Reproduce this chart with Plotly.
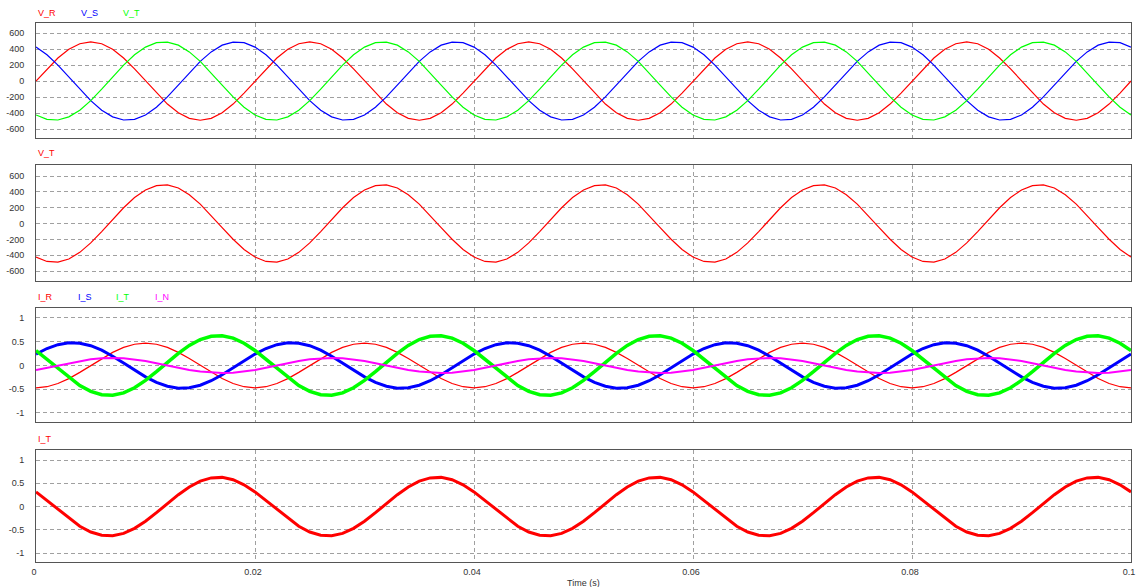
import plotly.graph_objects as go

W, H = 1136, 587

# time base (s), 1 ms sampling
time_s = [i / 1000 for i in range(101)]

V_R = [
    0, 151, 288, 396, 466, 490, 466, 396, 288, 151, 0, -151, -288, -396, -466, -490, -466, -396, -288, -151,
    0, 151, 288, 396, 466, 490, 466, 396, 288, 151, 0, -151, -288, -396, -466, -490, -466, -396, -288, -151,
    0, 151, 288, 396, 466, 490, 466, 396, 288, 151, 0, -151, -288, -396, -466, -490, -466, -396, -288, -151,
    0, 151, 288, 396, 466, 490, 466, 396, 288, 151, 0, -151, -288, -396, -466, -490, -466, -396, -288, -151,
    0, 151, 288, 396, 466, 490, 466, 396, 288, 151, 0, -151, -288, -396, -466, -490, -466, -396, -288, -151,
    0]
V_S = [
    424, 328, 199, 51, -102, -245, -364, -448, -487, -479, -424, -328, -199, -51, 102, 245, 364, 448, 487, 479,
    424, 328, 199, 51, -102, -245, -364, -448, -487, -479, -424, -328, -199, -51, 102, 245, 364, 448, 487, 479,
    424, 328, 199, 51, -102, -245, -364, -448, -487, -479, -424, -328, -199, -51, 102, 245, 364, 448, 487, 479,
    424, 328, 199, 51, -102, -245, -364, -448, -487, -479, -424, -328, -199, -51, 102, 245, 364, 448, 487, 479,
    424, 328, 199, 51, -102, -245, -364, -448, -487, -479, -424, -328, -199, -51, 102, 245, 364, 448, 487, 479,
    424]
V_T = [
    -424, -479, -487, -448, -364, -245, -102, 51, 199, 328, 424, 479, 487, 448, 364, 245, 102, -51, -199, -328,
    -424, -479, -487, -448, -364, -245, -102, 51, 199, 328, 424, 479, 487, 448, 364, 245, 102, -51, -199, -328,
    -424, -479, -487, -448, -364, -245, -102, 51, 199, 328, 424, 479, 487, 448, 364, 245, 102, -51, -199, -328,
    -424, -479, -487, -448, -364, -245, -102, 51, 199, 328, 424, 479, 487, 448, 364, 245, 102, -51, -199, -328,
    -424, -479, -487, -448, -364, -245, -102, 51, 199, 328, 424, 479, 487, 448, 364, 245, 102, -51, -199, -328,
    -424]
I_R = [
    -0.47, -0.447, -0.38, -0.276, -0.145, 0, 0.145, 0.276, 0.38, 0.447, 0.47, 0.447, 0.38, 0.276, 0.145, 0, -0.145, -0.276, -0.38, -0.447,
    -0.47, -0.447, -0.38, -0.276, -0.145, 0, 0.145, 0.276, 0.38, 0.447, 0.47, 0.447, 0.38, 0.276, 0.145, 0, -0.145, -0.276, -0.38, -0.447,
    -0.47, -0.447, -0.38, -0.276, -0.145, 0, 0.145, 0.276, 0.38, 0.447, 0.47, 0.447, 0.38, 0.276, 0.145, 0, -0.145, -0.276, -0.38, -0.447,
    -0.47, -0.447, -0.38, -0.276, -0.145, 0, 0.145, 0.276, 0.38, 0.447, 0.47, 0.447, 0.38, 0.276, 0.145, 0, -0.145, -0.276, -0.38, -0.447,
    -0.47, -0.447, -0.38, -0.276, -0.145, 0, 0.145, 0.276, 0.38, 0.447, 0.47, 0.447, 0.38, 0.276, 0.145, 0, -0.145, -0.276, -0.38, -0.447,
    -0.47]
I_S = [
    0.24, 0.357, 0.438, 0.477, 0.469, 0.416, 0.321, 0.195, 0.05, -0.1, -0.24, -0.357, -0.438, -0.477, -0.469, -0.416, -0.321, -0.195, -0.05, 0.1,
    0.24, 0.357, 0.438, 0.477, 0.469, 0.416, 0.321, 0.195, 0.05, -0.1, -0.24, -0.357, -0.438, -0.477, -0.469, -0.416, -0.321, -0.195, -0.05, 0.1,
    0.24, 0.357, 0.438, 0.477, 0.469, 0.416, 0.321, 0.195, 0.05, -0.1, -0.24, -0.357, -0.438, -0.477, -0.469, -0.416, -0.321, -0.195, -0.05, 0.1,
    0.24, 0.357, 0.438, 0.477, 0.469, 0.416, 0.321, 0.195, 0.05, -0.1, -0.24, -0.357, -0.438, -0.477, -0.469, -0.416, -0.321, -0.195, -0.05, 0.1,
    0.24, 0.357, 0.438, 0.477, 0.469, 0.416, 0.321, 0.195, 0.05, -0.1, -0.24, -0.357, -0.438, -0.477, -0.469, -0.416, -0.321, -0.195, -0.05, 0.1,
    0.24]
I_T = [
    0.315, 0.131, -0.066, -0.256, -0.422, -0.546, -0.616, -0.627, -0.576, -0.468, -0.315, -0.131, 0.066, 0.256, 0.422, 0.546, 0.616, 0.627, 0.576, 0.468,
    0.315, 0.131, -0.066, -0.256, -0.422, -0.546, -0.616, -0.627, -0.576, -0.468, -0.315, -0.131, 0.066, 0.256, 0.422, 0.546, 0.616, 0.627, 0.576, 0.468,
    0.315, 0.131, -0.066, -0.256, -0.422, -0.546, -0.616, -0.627, -0.576, -0.468, -0.315, -0.131, 0.066, 0.256, 0.422, 0.546, 0.616, 0.627, 0.576, 0.468,
    0.315, 0.131, -0.066, -0.256, -0.422, -0.546, -0.616, -0.627, -0.576, -0.468, -0.315, -0.131, 0.066, 0.256, 0.422, 0.546, 0.616, 0.627, 0.576, 0.468,
    0.315, 0.131, -0.066, -0.256, -0.422, -0.546, -0.616, -0.627, -0.576, -0.468, -0.315, -0.131, 0.066, 0.256, 0.422, 0.546, 0.616, 0.627, 0.576, 0.468,
    0.315]
I_N = [
    -0.094, -0.049, 0, 0.049, 0.094, 0.129, 0.152, 0.16, 0.152, 0.129, 0.094, 0.049, 0, -0.049, -0.094, -0.129, -0.152, -0.16, -0.152, -0.129,
    -0.094, -0.049, 0, 0.049, 0.094, 0.129, 0.152, 0.16, 0.152, 0.129, 0.094, 0.049, 0, -0.049, -0.094, -0.129, -0.152, -0.16, -0.152, -0.129,
    -0.094, -0.049, 0, 0.049, 0.094, 0.129, 0.152, 0.16, 0.152, 0.129, 0.094, 0.049, 0, -0.049, -0.094, -0.129, -0.152, -0.16, -0.152, -0.129,
    -0.094, -0.049, 0, 0.049, 0.094, 0.129, 0.152, 0.16, 0.152, 0.129, 0.094, 0.049, 0, -0.049, -0.094, -0.129, -0.152, -0.16, -0.152, -0.129,
    -0.094, -0.049, 0, 0.049, 0.094, 0.129, 0.152, 0.16, 0.152, 0.129, 0.094, 0.049, 0, -0.049, -0.094, -0.129, -0.152, -0.16, -0.152, -0.129,
    -0.094]

x_ticks = [0, 0.02, 0.04, 0.06, 0.08, 0.1]
x_tick_text = ["0", "0.02", "0.04", "0.06", "0.08", "0.1"]
v_ticks = [-600, -400, -200, 0, 200, 400, 600]
i_ticks = [-1, -0.5, 0, 0.5, 1]
i_tick_text = ["-1", "-0.5", "0", "0.5", "1"]

RED, BLUE, GREEN, MAG = "#ff0000", "#0000ff", "#00ff00", "#ff00ff"
FONT = "Liberation Sans, Arial, sans-serif"
FS = 9

# panel boxes in pixels (top, bottom) and y ranges
panels = [
    (23, 138, [-712, 725]),
    (165, 281, [-726, 739]),
    (308, 422, [-1.19, 1.21]),
    (450, 562, [-1.19, 1.215]),
]
X0, X1 = 36, 1131

fig = go.Figure()

def add(y, color, width, k):
    fig.add_trace(go.Scatter(
        x=time_s, y=y, mode="lines", line=dict(color=color, width=width),
        xaxis="x" if k == 1 else f"x{k}", yaxis="y" if k == 1 else f"y{k}",
        showlegend=False, hoverinfo="skip"))

add(V_R, RED, 1.2, 1)
add(V_S, BLUE, 1.2, 1)
add(V_T, GREEN, 1.2, 1)
add(V_T, RED, 1.2, 2)
add(I_R, RED, 1.2, 3)
add(I_S, BLUE, 3, 3)
add(I_T, GREEN, 3.5, 3)
add(I_N, MAG, 2, 3)
add(I_T, RED, 3, 4)

layout = dict(
    width=W, height=H, margin=dict(l=0, r=0, t=0, b=0, autoexpand=False),
    paper_bgcolor="white", plot_bgcolor="white",
    font=dict(family=FONT, size=FS, color="#333333"),
    hovermode=False, showlegend=False,
)

for k, (top, bot, yr) in enumerate(panels, start=1):
    sx = "" if k == 1 else str(k)
    ydom = [1 - bot / H, 1 - top / H]
    layout[f"xaxis{sx}"] = dict(
        domain=[X0 / W, X1 / W], range=[0, 0.1], anchor=f"y{sx}",
        tickvals=x_ticks, ticktext=x_tick_text, showticklabels=(k == 4),
        showgrid=True, gridcolor="#a0a0a0", griddash="4px,3px", gridwidth=1,
        zeroline=False, showline=True, mirror=True, linecolor="#555555", linewidth=1,
        ticks="", ticklabelstandoff=1, ticklabelshift=-2,
        ticklabeloverflow="allow", automargin=False,
        tickfont=dict(size=FS, color="#333333"),
    )
    if k > 1:
        layout[f"xaxis{sx}"]["matches"] = "x"
    if k <= 2:
        tv, tt = v_ticks, [str(v) for v in v_ticks]
    else:
        tv, tt = i_ticks, i_tick_text
    layout[f"yaxis{sx}"] = dict(
        domain=ydom, range=yr, anchor=f"x{sx}",
        tickvals=tv, ticktext=tt, automargin=False,
        showgrid=True, gridcolor="#a0a0a0", griddash="4px,3px", gridwidth=1,
        zeroline=False, showline=True, mirror=True, linecolor="#555555", linewidth=1,
        ticks="", ticklabelstandoff=9, tickfont=dict(size=FS, color="#333333"),
    )

fig.update_layout(**layout)

labels = [
    ("V_R", RED, 36, 13), ("V_S", BLUE, 79, 13), ("V_T", GREEN, 121, 13),
    ("V_T", RED, 36, 153),
    ("I_R", RED, 36, 297), ("I_S", BLUE, 76, 297), ("I_T", GREEN, 114, 297), ("I_N", MAG, 153, 297),
    ("I_T", RED, 36, 439),
]
for text, color, px, py in labels:
    fig.add_annotation(text=text, xref="paper", yref="paper", x=px / W, y=1 - py / H,
                       xanchor="left", yanchor="middle", showarrow=False,
                       font=dict(family=FONT, size=FS, color=color))

fig.add_annotation(text="Time (s)", xref="paper", yref="paper", x=583 / W, y=1 - 583 / H,
                   xanchor="center", yanchor="middle", showarrow=False,
                   font=dict(family=FONT, size=FS, color="#333333"))

fig.write_html("out.html")
